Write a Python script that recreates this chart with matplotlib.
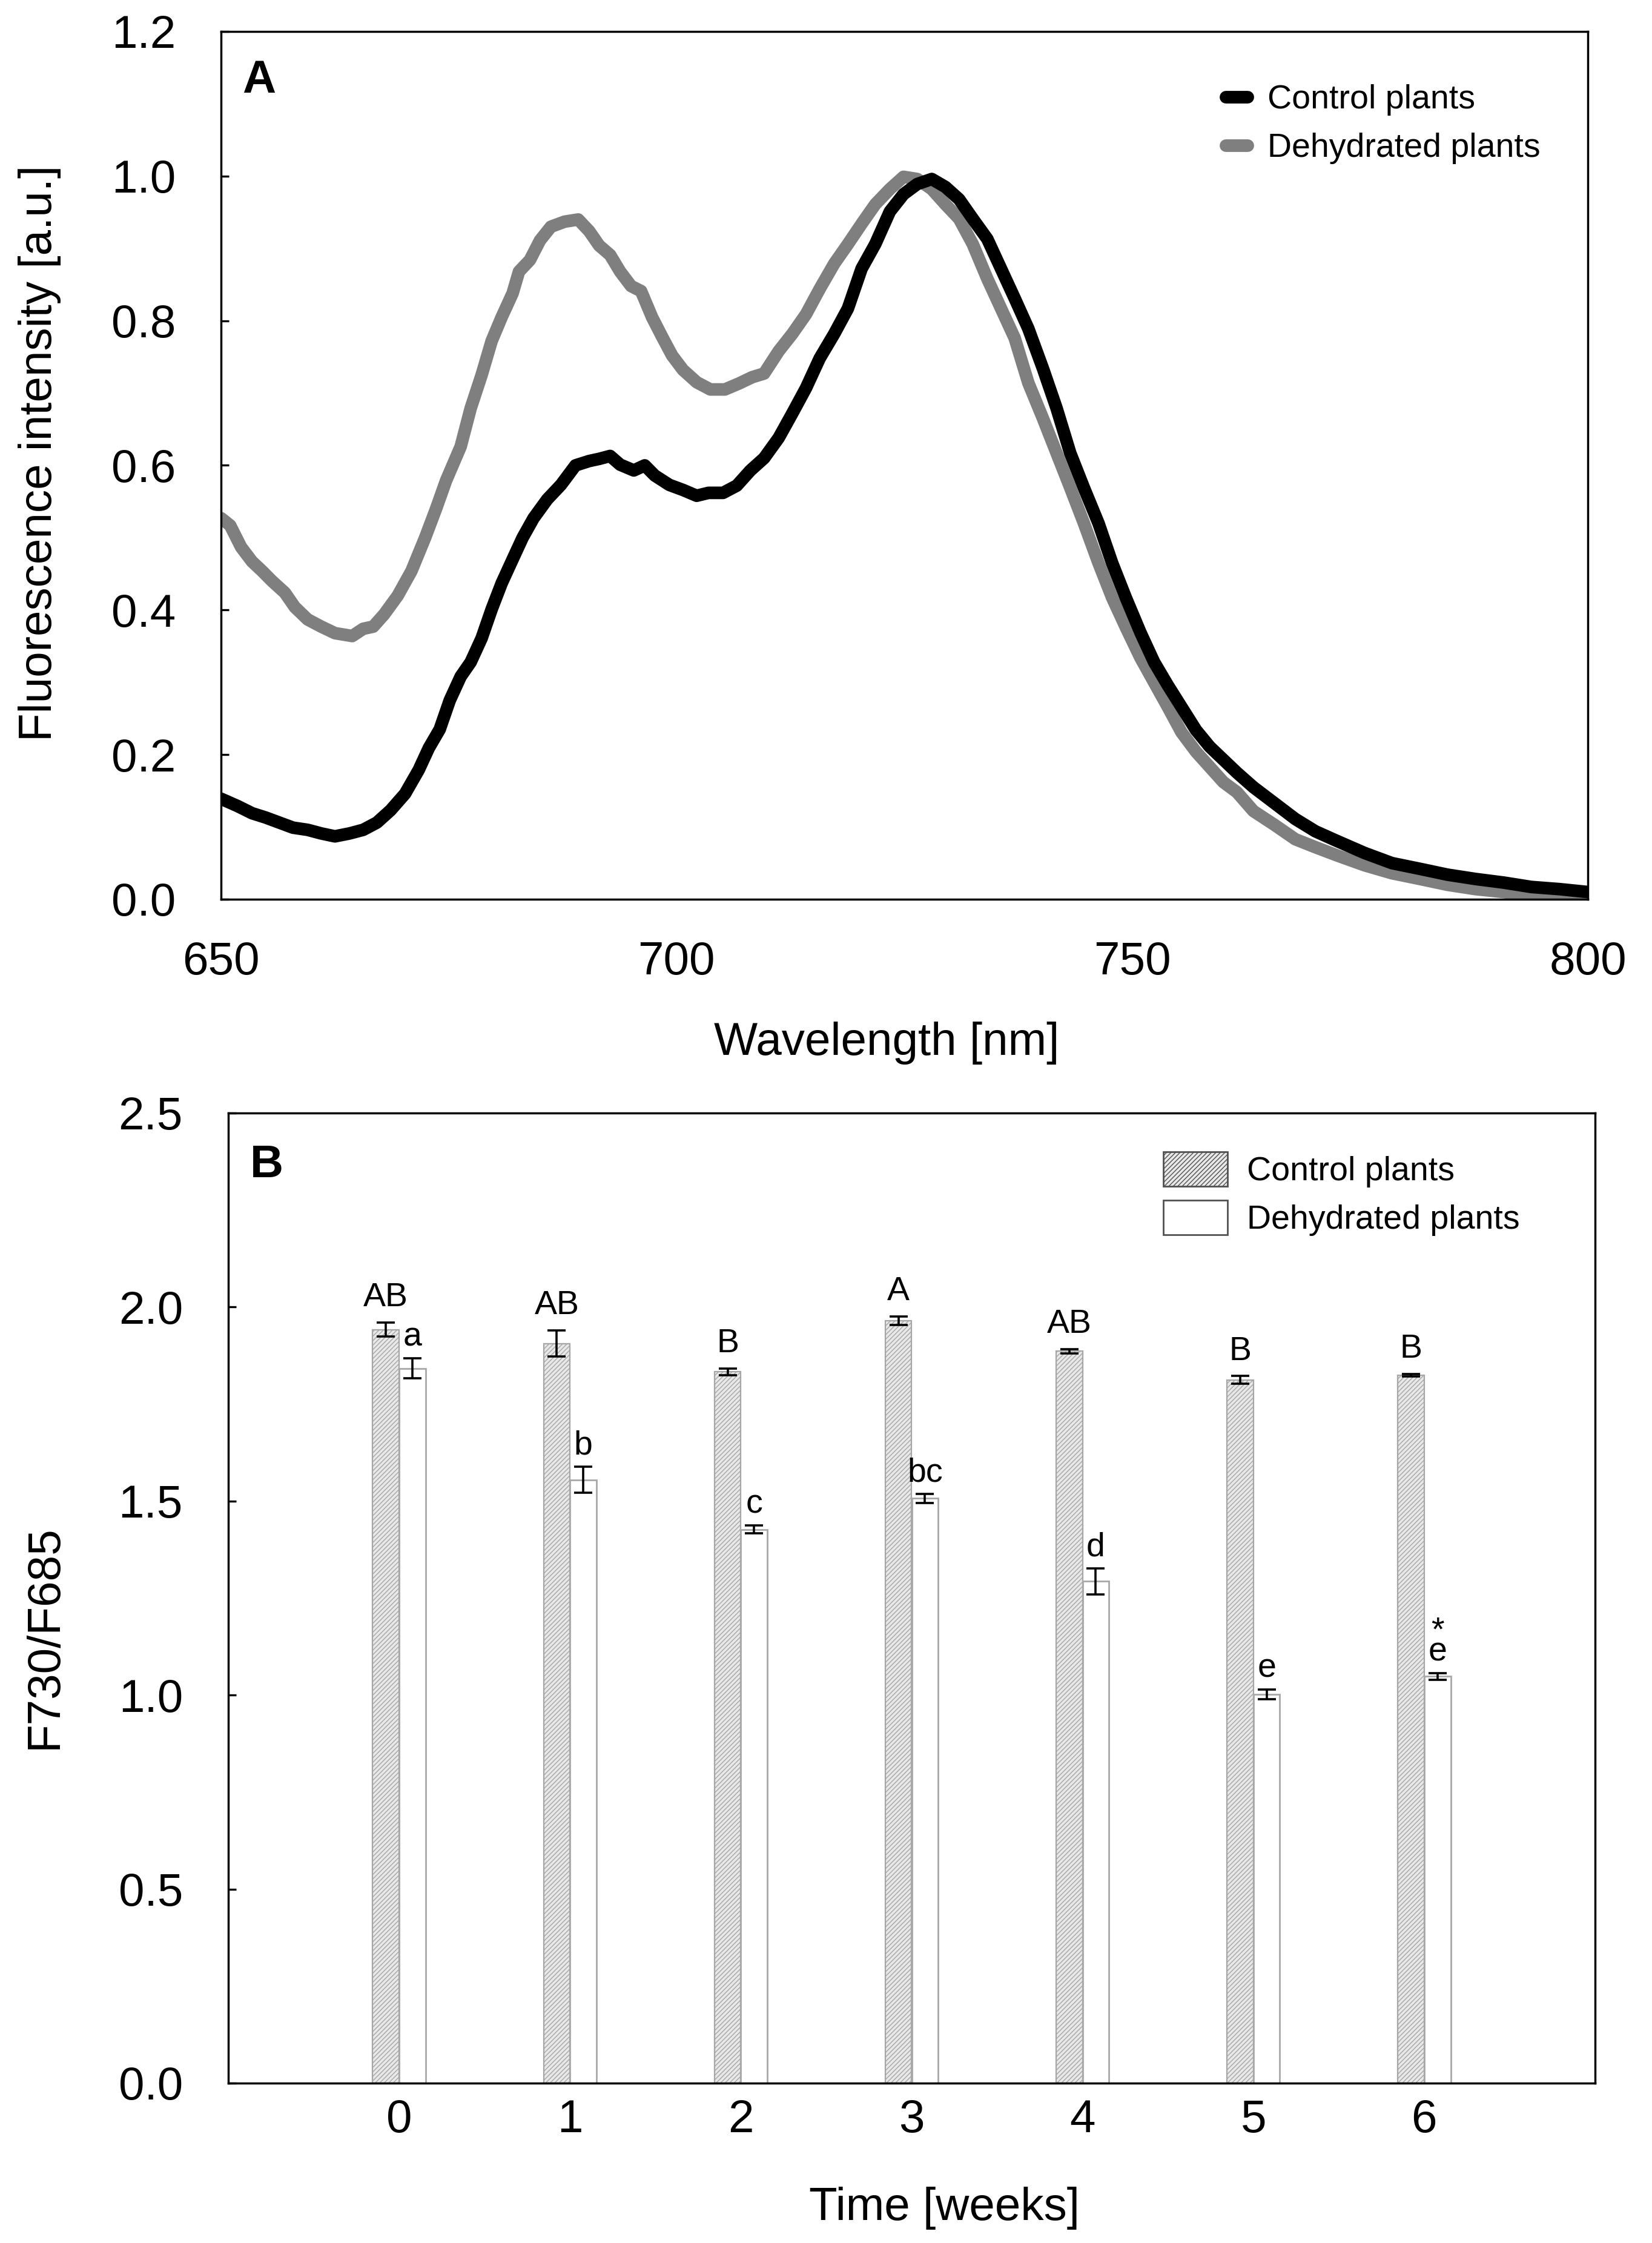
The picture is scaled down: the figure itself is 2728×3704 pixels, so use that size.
import matplotlib
matplotlib.use("Agg")
import matplotlib.pyplot as plt
from matplotlib.patches import Patch
import numpy as np

plt.rcParams['font.family'] = ['Liberation Sans', 'DejaVu Sans']
plt.rcParams['hatch.linewidth'] = 0.5

# ---------------- Panel A data ----------------
wl_dehydrated = [650, 651, 652.2, 653.4, 654.5, 655.6, 657, 658.1, 659.5, 661, 662.5, 664.4,
                 665.6, 666.7, 667.9, 669.4, 670.9, 672.4, 673.6, 674.7, 676.3, 677.4, 678.6,
                 679.7, 680.8, 682, 682.7, 683.9, 685, 686.2, 687.7, 689.2, 690.4, 691.5, 692.7,
                 693.8, 695, 696.1, 697.3, 698.4, 699.5, 700.7, 702.2, 703.7, 705.3, 706.8, 708.3,
                 709.6, 711.2, 712.7, 714.2, 715.7, 717.3, 718.8, 720.3, 721.8, 723.4, 724.9,
                 726.4, 728, 729.5, 731, 732.5, 734.1, 735.6, 737.1, 738.6, 740.2, 741.7, 743.2,
                 744.7, 746.3, 747.8, 749.3, 750.9, 752.4, 753.9, 755.4, 757, 758.5, 760, 761.5,
                 763.3, 765.6, 767.9, 770.1, 772.4, 775.5, 778.5, 781.6, 784.6, 787.7, 790.8,
                 793.1, 796, 800]
int_dehydrated = [0.527, 0.517, 0.487, 0.467, 0.454, 0.440, 0.424, 0.404, 0.387, 0.377, 0.368, 0.364,
                  0.374, 0.377, 0.394, 0.420, 0.454, 0.500, 0.540, 0.579, 0.626, 0.679, 0.725,
                  0.772, 0.805, 0.838, 0.868, 0.884, 0.911, 0.930, 0.937, 0.940, 0.924, 0.904, 0.891,
                  0.868, 0.848, 0.841, 0.805, 0.778, 0.752, 0.732, 0.715, 0.705, 0.705, 0.713, 0.722,
                  0.727, 0.758, 0.782, 0.809, 0.844, 0.879, 0.906, 0.934, 0.961, 0.982, 0.999,
                  0.996, 0.982, 0.961, 0.941, 0.906, 0.858, 0.817, 0.776, 0.714, 0.665, 0.617, 0.569,
                  0.520, 0.465, 0.417, 0.376, 0.334, 0.300, 0.266, 0.231, 0.204, 0.183, 0.162, 0.148,
                  0.122, 0.103, 0.083, 0.072, 0.061, 0.047, 0.036, 0.028, 0.020, 0.014, 0.010,
                  0.006, 0.004, 0.002]

wl_control = [650, 651.8, 653.4, 654.9, 656.4, 657.9, 659.5, 661, 662.5, 664.1, 665.6, 667.1,
              668.6, 670.2, 671.7, 672.8, 674, 675.1, 676.3, 677.4, 678.6, 679.7, 680.8, 682,
              683.1, 684.3, 685.8, 687.3, 688.9, 690.4, 691.5, 692.7, 693.8, 695.3, 696.5, 697.6,
              699.2, 700.7, 702.2, 703.5, 705.1, 706.6, 708.1, 709.6, 711.2, 712.7, 714.2, 715.7,
              717.3, 718.8, 720.3, 721.8, 723.4, 724.9, 726.4, 728, 729.5, 731, 732.5, 734.1,
              735.6, 737.1, 738.6, 740.2, 741.7, 743.2, 744.7, 746.3, 747.8, 749.3, 750.9, 752.4,
              753.9, 755.4, 757, 758.5, 760, 761.5, 763.3, 765.6, 767.9, 770.1, 772.4, 775.5,
              778.5, 781.6, 784.6, 787.7, 790.8, 793.8, 796.9, 800]
int_control = [0.139, 0.129, 0.119, 0.113, 0.106, 0.099, 0.096, 0.091, 0.087, 0.091, 0.096, 0.106,
               0.123, 0.146, 0.179, 0.209, 0.235, 0.275, 0.308, 0.328, 0.361, 0.401, 0.437, 0.470,
               0.500, 0.527, 0.553, 0.573, 0.600, 0.606, 0.609, 0.613, 0.601, 0.593, 0.600, 0.586,
               0.573, 0.566, 0.558, 0.562, 0.562, 0.572, 0.593, 0.610, 0.638, 0.672, 0.707, 0.748,
               0.782, 0.817, 0.872, 0.906, 0.951, 0.975, 0.989, 0.996, 0.985, 0.968, 0.941, 0.913,
               0.872, 0.831, 0.789, 0.734, 0.679, 0.617, 0.569, 0.520, 0.465, 0.417, 0.369, 0.328,
               0.296, 0.266, 0.234, 0.211, 0.193, 0.175, 0.155, 0.133, 0.111, 0.094, 0.081, 0.064,
               0.050, 0.042, 0.034, 0.028, 0.023, 0.017, 0.014, 0.010]

# ---------------- Panel B data ----------------
weeks = [0, 1, 2, 3, 4, 5, 6]
ratio_control = [1.942, 1.906, 1.833, 1.965, 1.886, 1.812, 1.824]
err_control = [0.018, 0.034, 0.008, 0.011, 0.005, 0.010, 0.003]
ratio_dehydrated = [1.842, 1.555, 1.427, 1.507, 1.293, 1.002, 1.048]
err_dehydrated = [0.026, 0.034, 0.010, 0.012, 0.033, 0.013, 0.009]
letters_control = ["AB", "AB", "B", "A", "AB", "B", "B"]
letters_dehydrated = ["a", "b", "c", "bc", "d", "e", "*\ne"]

labels_series = ["Control plants", "Dehydrated plants"]

# ---------------- Figure ----------------
fig = plt.figure(figsize=(13.64, 18.52), dpi=200)

TICK_FS = 27.5
LEG_FS = 20
SPINE_LW = 1.25

# Panel A
axA = fig.add_axes([365 / 2728, 1 - 1485 / 3704, 2257 / 2728, 1433 / 3704])
lD, = axA.plot(wl_dehydrated, int_dehydrated, color='#7f7f7f', lw=7.5,
               solid_capstyle='round', solid_joinstyle='round')
lC, = axA.plot(wl_control, int_control, color='black', lw=7.5,
               solid_capstyle='round', solid_joinstyle='round')
axA.set_xlim(650, 800)
axA.set_ylim(0, 1.2)
axA.set_xticks([650, 700, 750, 800])
axA.set_yticks(np.arange(0, 1.21, 0.2))
axA.yaxis.set_major_formatter(matplotlib.ticker.FormatStrFormatter('%.1f'))
axA.tick_params(axis='x', length=0, pad=25, labelsize=TICK_FS)
axA.tick_params(axis='y', direction='in', length=4.5, width=1.2, pad=27, labelsize=TICK_FS)
for s in axA.spines.values():
    s.set_linewidth(SPINE_LW)
axA.set_xlabel("Wavelength [nm]", fontsize=TICK_FS)
axA.xaxis.label.set_va('center')
axA.xaxis.set_label_coords(0.487, -0.166)
axA.set_ylabel("Fluorescence intensity [a.u.]", fontsize=TICK_FS)
axA.yaxis.label.set_va('center')
axA.yaxis.set_label_coords(-0.1325, 0.514)
axA.text(0.0155, 0.968, "A", transform=axA.transAxes, fontsize=TICK_FS,
         fontweight='bold', ha='left', va='top')
axA.legend([lC, lD], labels_series, loc='upper left',
           bbox_to_anchor=(0.735, 0.939), frameon=False, fontsize=LEG_FS,
           handlelength=0.65, handletextpad=0.6, labelspacing=0.5,
           borderpad=0, borderaxespad=0)

# Panel B
axB = fig.add_axes([377 / 2728, 1 - 3440 / 3704, 2257 / 2728, 1602 / 3704])
w = 0.155
x = np.array(weeks, dtype=float)
xc = x - w / 2
xd = x + w / 2
axB.bar(xc, ratio_control, width=w, color='#e8e8e8', edgecolor='#a6a6a6',
        hatch='/////////', linewidth=0.8, zorder=2)
axB.bar(xd, ratio_dehydrated, width=w, color='white', edgecolor='#a8a8a8',
        linewidth=1.0, zorder=2)
axB.errorbar(xc, ratio_control, yerr=err_control, fmt='none', ecolor='black',
             elinewidth=1.3, capsize=5.5, capthick=1.3, zorder=3)
axB.errorbar(xd, ratio_dehydrated, yerr=err_dehydrated, fmt='none', ecolor='black',
             elinewidth=1.3, capsize=5.5, capthick=1.3, zorder=3)
for xi, v, e, t in zip(xc, ratio_control, err_control, letters_control):
    axB.text(xi, v + e + 0.042, t, ha='center', va='baseline', fontsize=LEG_FS)
for xi, v, e, t in zip(xd, ratio_dehydrated, err_dehydrated, letters_dehydrated):
    axB.text(xi, v + e + 0.013, t, ha='center', va='bottom', fontsize=LEG_FS,
             linespacing=0.55)

axB.set_xlim(-1, 7)
axB.set_ylim(0, 2.5)
axB.set_xticks(weeks)
axB.set_yticks(np.arange(0, 2.51, 0.5))
axB.yaxis.set_major_formatter(matplotlib.ticker.FormatStrFormatter('%.1f'))
axB.tick_params(axis='x', direction='in', length=4.8, width=1.2, pad=9.5, labelsize=TICK_FS)
axB.tick_params(axis='y', direction='in', length=4.5, width=1.2, pad=27, labelsize=TICK_FS)
for s in axB.spines.values():
    s.set_linewidth(SPINE_LW)
axB.set_xlabel("Time [weeks]", fontsize=TICK_FS)
axB.xaxis.label.set_va('center')
axB.xaxis.set_label_coords(0.524, -0.129)
axB.set_ylabel("F730/F685", fontsize=TICK_FS)
axB.yaxis.label.set_va('center')
axB.yaxis.set_label_coords(-0.134, 0.46)
axB.text(0.016, 0.968, "B", transform=axB.transAxes, fontsize=TICK_FS,
         fontweight='bold', ha='left', va='top')
hC = Patch(facecolor='#e8e8e8', edgecolor='#505050', hatch='/////////', linewidth=1.0)
hD = Patch(facecolor='white', edgecolor='#505050', linewidth=1.0)
axB.legend([hC, hD], labels_series, loc='upper left', bbox_to_anchor=(0.684, 0.96),
           frameon=False, fontsize=LEG_FS, handlelength=1.92, handleheight=1.19,
           handletextpad=0.56, labelspacing=0.38, borderpad=0, borderaxespad=0)

fig.savefig("out.png", dpi=200)
